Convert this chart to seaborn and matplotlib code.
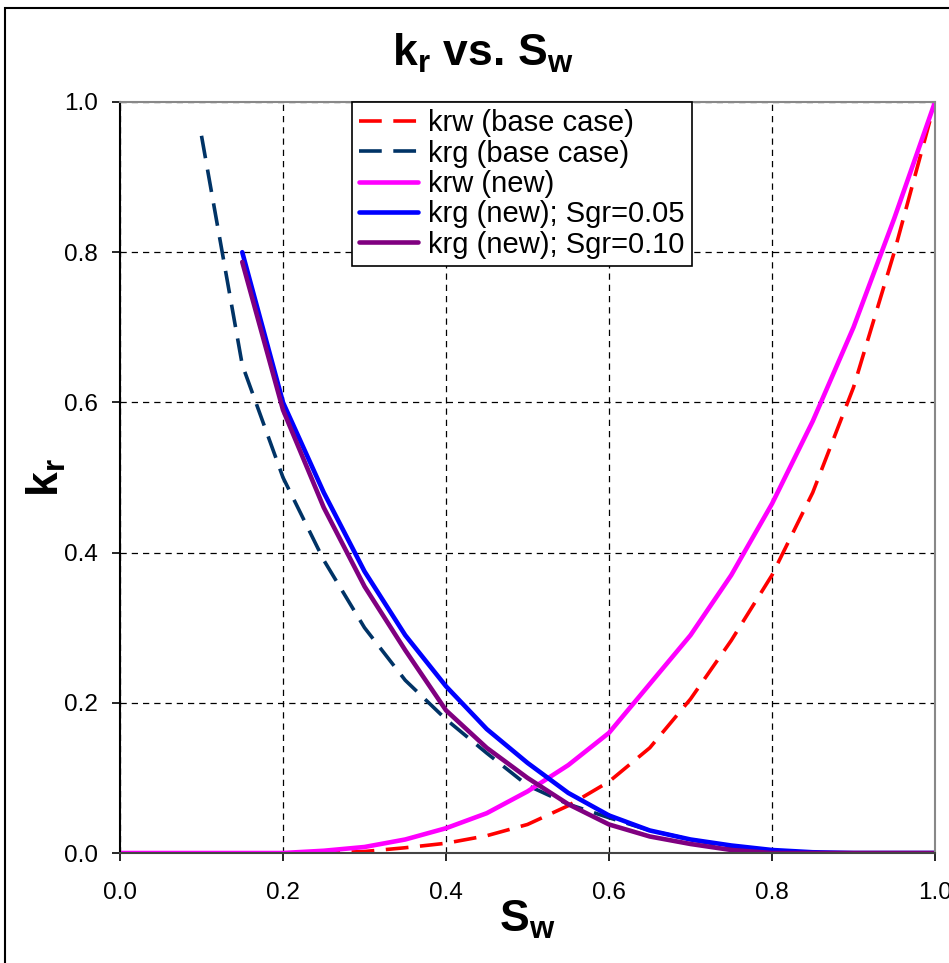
import numpy as np
import pandas as pd
import matplotlib
matplotlib.use("Agg")
import matplotlib.pyplot as plt
import seaborn as sns
from matplotlib.patches import Rectangle

sns.set_theme(style="white")
plt.rcParams['font.family'] = ['Liberation Sans', 'DejaVu Sans']
plt.rcParams['mathtext.fontset'] = 'custom'
plt.rcParams['mathtext.rm'] = 'Liberation Sans'
plt.rcParams['mathtext.bf'] = 'Liberation Sans:bold'
plt.rcParams['mathtext.it'] = 'Liberation Sans:italic'
plt.rcParams['text.color'] = 'black'
plt.rcParams['axes.labelcolor'] = 'black'
plt.rcParams['xtick.color'] = 'black'
plt.rcParams['ytick.color'] = 'black'

# ---- data ----
sw_krw_base = [0.20, 0.25, 0.30, 0.35, 0.40, 0.45, 0.50, 0.55, 0.60, 0.65, 0.70, 0.75, 0.80, 0.85, 0.90, 0.95, 1.00]
krw_base    = [0.0, 0.0, 0.002, 0.007, 0.013, 0.023, 0.038, 0.063, 0.095, 0.14, 0.205, 0.283, 0.37, 0.48, 0.62, 0.80, 1.00]

sw_krg_base = [0.10, 0.15, 0.20, 0.25, 0.30, 0.35, 0.40, 0.45, 0.50, 0.55, 0.60, 0.65, 0.70, 0.75, 0.80, 0.85, 0.90, 0.95, 1.00]
krg_base    = [0.955, 0.65, 0.50, 0.39, 0.30, 0.23, 0.178, 0.133, 0.09, 0.065, 0.047, 0.03, 0.018, 0.008, 0.003, 0.0, 0.0, 0.0, 0.0]

sw_krw_new = [0.0, 0.05, 0.10, 0.15, 0.20, 0.25, 0.30, 0.35, 0.40, 0.45, 0.50, 0.55, 0.60, 0.65, 0.70, 0.75, 0.80, 0.85, 0.90, 0.95, 1.00]
krw_new    = [0.0, 0.0, 0.0, 0.0, 0.0, 0.003, 0.008, 0.018, 0.033, 0.053, 0.082, 0.117, 0.16, 0.225, 0.29, 0.37, 0.465, 0.575, 0.70, 0.845, 1.00]

sw_krg_new = [0.15, 0.20, 0.25, 0.30, 0.35, 0.40, 0.45, 0.50, 0.55, 0.60, 0.65, 0.70, 0.75, 0.80, 0.85, 0.90, 0.95, 1.00]
krg_new_05 = [0.80, 0.60, 0.48, 0.375, 0.29, 0.222, 0.165, 0.12, 0.08, 0.05, 0.03, 0.018, 0.01, 0.004, 0.001, 0.0, 0.0, 0.0]
krg_new_10 = [0.787, 0.59, 0.46, 0.355, 0.27, 0.19, 0.14, 0.10, 0.065, 0.038, 0.022, 0.012, 0.004, 0.0, 0.0, 0.0, 0.0, 0.0]

labels = ["krw (base case)", "krg (base case)", "krw (new)",
          "krg (new); Sgr=0.05", "krg (new); Sgr=0.10"]
ticks = [0.0, 0.2, 0.4, 0.6, 0.8, 1.0]

W, H = 949, 963
fig = plt.figure(figsize=(W/100, H/100), dpi=100)
ax = fig.add_axes([120/W, 1-853/H, 815/W, 751/H])

dash = (0, (6.3, 3.2))
sns.lineplot(x=sw_krw_base, y=krw_base, ax=ax, color='#FF0000', lw=2.6,
             linestyle=dash, label=labels[0], sort=False, estimator=None)
sns.lineplot(x=sw_krg_base, y=krg_base, ax=ax, color='#003366', lw=2.6,
             linestyle=dash, label=labels[1], sort=False, estimator=None)
sns.lineplot(x=sw_krw_new, y=krw_new, ax=ax, color='#FF00FF', lw=3.3,
             label=labels[2], sort=False, estimator=None)
sns.lineplot(x=sw_krg_new, y=krg_new_05, ax=ax, color='#0000FF', lw=3.3,
             label=labels[3], sort=False, estimator=None)
sns.lineplot(x=sw_krg_new, y=krg_new_10, ax=ax, color='#800080', lw=3.3,
             label=labels[4], sort=False, estimator=None)

ax.set_xlim(0, 1)
ax.set_ylim(0, 1)
ax.set_xticks(ticks)
ax.set_yticks(ticks)
ax.set_xticklabels([f"{t:.1f}" for t in ticks], fontsize=17.5)
ax.set_yticklabels([f"{t:.1f}" for t in ticks], fontsize=17.5)
ax.tick_params(axis='both', which='major', direction='out', length=6, width=1.2,
               color='black', bottom=True, left=True)
ax.tick_params(axis='x', pad=15)
ax.tick_params(axis='y', pad=10)

ax.grid(True, color='black', linestyle=(0, (5, 4)), linewidth=0.9)
ax.set_axisbelow(True)
for s in ['top', 'right']:
    ax.spines[s].set_color('#888888')
    ax.spines[s].set_linewidth(1.5)
ax.spines['left'].set_color('black')
ax.spines['left'].set_linewidth(1.5)
ax.spines['bottom'].set_color('#444444')
ax.spines['bottom'].set_linewidth(1.5)

ax.set_xlabel(r'$\mathbf{S_w}$', fontsize=32, va='center')
ax.xaxis.set_label_coords((527-120)/815, (853-920)/751)
ax.set_ylabel(r'$\mathbf{k_r}$', fontsize=32, va='center')
ax.yaxis.set_label_coords((46-120)/815, (853-478)/751)
fig.text(483/W, 1-53/H, r'$\mathbf{k_r}$ vs. $\mathbf{S_w}$', fontsize=32,
         fontweight='bold', ha='center', va='center')

leg = ax.legend(loc='upper left', bbox_to_anchor=((352-120)/815, 1.0),
                fontsize=21, frameon=True, fancybox=False, shadow=False,
                edgecolor='black', framealpha=1, handlelength=2.0,
                borderpad=0.25, labelspacing=0.08, handletextpad=0.35,
                borderaxespad=0)
leg.get_frame().set_linewidth(1.2)

fig.patches.append(Rectangle((5/W, -0.05), 1.1, 1.05 - 8/H, transform=fig.transFigure,
                             fill=False, edgecolor='black', linewidth=1.5))

fig.savefig('out.png', dpi=100)
